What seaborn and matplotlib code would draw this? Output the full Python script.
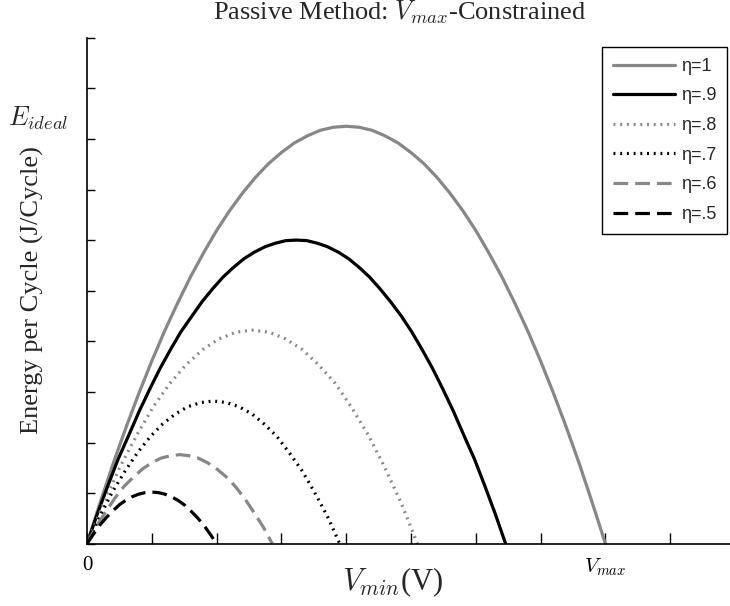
import matplotlib
matplotlib.use("Agg")
import matplotlib.pyplot as plt
import seaborn as sns
import pandas as pd

# ---- data (V and E in axis-tick units) ----
labels = ["η=1", "η=.9", "η=.8", "η=.7", "η=.6", "η=.5"]

v_eta10 = [0, 0.2, 0.4, 0.6, 0.8, 1.0, 1.2, 1.4, 1.6, 1.8, 2.0, 2.2, 2.4, 2.6, 2.8, 3.0, 3.2, 3.4, 3.6, 3.8, 4.0,
           4.2, 4.4, 4.6, 4.8, 5.0, 5.2, 5.4, 5.6, 5.8, 6.0, 6.2, 6.4, 6.6, 6.8, 7.0, 7.2, 7.4, 7.6, 7.8, 8.0]
e_eta10 = [0, 0.80, 1.57, 2.29, 2.97, 3.61, 4.21, 4.76, 5.28, 5.75, 6.19, 6.58, 6.93, 7.24, 7.51, 7.73, 7.92, 8.06, 8.17, 8.23, 8.25,
           8.23, 8.17, 8.06, 7.92, 7.73, 7.51, 7.24, 6.93, 6.58, 6.19, 5.75, 5.28, 4.76, 4.21, 3.61, 2.97, 2.29, 1.57, 0.80, 0]

v_eta09 = [0, 0.16, 0.32, 0.48, 0.65, 0.81, 0.97, 1.13, 1.29, 1.45, 1.62, 1.78, 1.94, 2.10, 2.26, 2.42, 2.58, 2.75, 2.91, 3.07, 3.23,
           3.39, 3.55, 3.71, 3.88, 4.04, 4.20, 4.36, 4.52, 4.68, 4.85, 5.01, 5.17, 5.33, 5.49, 5.65, 5.81, 5.98, 6.14, 6.30, 6.46]
e_eta09 = [0, 0.59, 1.14, 1.67, 2.16, 2.63, 3.06, 3.47, 3.84, 4.19, 4.50, 4.79, 5.04, 5.27, 5.46, 5.63, 5.76, 5.87, 5.94, 5.99, 6.00,
           5.99, 5.94, 5.87, 5.76, 5.63, 5.46, 5.27, 5.04, 4.79, 4.50, 4.19, 3.84, 3.47, 3.06, 2.63, 2.16, 1.67, 1.14, 0.59, 0]

v_eta08 = [0, 0.26, 0.51, 0.77, 1.02, 1.28, 1.53, 1.79, 2.04, 2.30, 2.55, 2.81, 3.06, 3.32, 3.57, 3.83, 4.08, 4.34, 4.59, 4.85, 5.10]
e_eta08 = [0, 0.80, 1.52, 2.15, 2.70, 3.17, 3.54, 3.84, 4.05, 4.18, 4.22, 4.18, 4.05, 3.84, 3.54, 3.17, 2.70, 2.15, 1.52, 0.80, 0]

v_eta07 = [0, 0.20, 0.39, 0.59, 0.78, 0.98, 1.17, 1.37, 1.56, 1.76, 1.95, 2.15, 2.34, 2.54, 2.73, 2.93, 3.12, 3.32, 3.51, 3.71, 3.90]
e_eta07 = [0, 0.54, 1.02, 1.44, 1.80, 2.12, 2.37, 2.57, 2.71, 2.79, 2.82, 2.79, 2.71, 2.57, 2.37, 2.12, 1.80, 1.44, 1.02, 0.54, 0]

v_eta06 = [0, 0.14, 0.29, 0.43, 0.57, 0.72, 0.86, 1.00, 1.14, 1.29, 1.43, 1.57, 1.72, 1.86, 2.00, 2.15, 2.29, 2.43, 2.57, 2.72, 2.86]
e_eta06 = [0, 0.33, 0.63, 0.90, 1.13, 1.32, 1.48, 1.60, 1.69, 1.74, 1.76, 1.74, 1.69, 1.60, 1.48, 1.32, 1.13, 0.90, 0.63, 0.33, 0]

v_eta05 = [0, 0.1, 0.2, 0.3, 0.4, 0.5, 0.6, 0.7, 0.8, 0.9, 1.0, 1.1, 1.2, 1.3, 1.4, 1.5, 1.6, 1.7, 1.8, 1.9, 2.0]
e_eta05 = [0, 0.19, 0.37, 0.52, 0.65, 0.77, 0.86, 0.93, 0.98, 1.01, 1.02, 1.01, 0.98, 0.93, 0.86, 0.77, 0.65, 0.52, 0.37, 0.19, 0]

x_tick_pos = list(range(0, 10))
x_tick_labels = ["0", "", "", "", "", "", "", "", r"$V_{max}$", ""]
y_tick_pos = list(range(0, 11))
e_ideal_level = 8.27

series_v = [v_eta10, v_eta09, v_eta08, v_eta07, v_eta06, v_eta05]
series_e = [e_eta10, e_eta09, e_eta08, e_eta07, e_eta06, e_eta05]

# ---- styles ----
GRAY = "#878787"
colors = [GRAY, "black", GRAY, "black", GRAY, "black"]
styles = ["-", "-", (0, (0.6, 1.5)), (0, (0.6, 1.5)), (0, (4.6, 2.2)), (0, (4.6, 2.2))]

sns.set_style("ticks")
plt.rcParams["font.family"] = ["Liberation Serif", "DejaVu Serif"]
plt.rcParams["mathtext.fontset"] = "cm"

fig = plt.figure(figsize=(7.30, 6.06), dpi=100)
ax = fig.add_axes([87 / 730, 1 - 543.7 / 606, 1 - 87 / 730, (543.7 - 37.7) / 606])

for v, e, lab, c, ls in zip(series_v, series_e, labels, colors, styles):
    df = pd.DataFrame({"V": v, "E": e})
    sns.lineplot(data=df, x="V", y="E", ax=ax, color=c, linestyle=ls,
                 linewidth=2.3, label=lab, sort=False, errorbar=None,
                 solid_joinstyle="round")

ax.set_xlim(0, (730 - 87) / 64.8)
ax.set_ylim(0, 10)
ax.set_xticks(x_tick_pos)
ax.set_xticklabels(x_tick_labels, fontsize=15)
ax.set_yticks(y_tick_pos)
ax.set_yticklabels([])
ax.tick_params(axis="both", direction="in", width=1, colors="black")
ax.tick_params(axis="x", length=8, pad=9)
ax.tick_params(axis="y", length=6)
for s in ["top", "right"]:
    ax.spines[s].set_visible(False)
for s in ["left", "bottom"]:
    ax.spines[s].set_linewidth(1.2)
    ax.spines[s].set_color("black")
ax.set_xlabel("")
ax.set_ylabel("")

ax.text(-0.278, e_ideal_level, r"$E_{ideal}$", ha="right", va="baseline",
        fontsize=19, clip_on=False)

fig.text(400 / 730, 1 - 20 / 606, r"Passive Method: $V_{max}$-Constrained",
         ha="center", va="baseline", fontsize=19)
fig.text(393 / 730, 1 - 582 / 606, r"$V_{min}$(V)", ha="center", va="center", fontsize=22)
fig.text(32 / 730, 1 - 290 / 606, "Energy per Cycle (J/Cycle)", ha="center", va="center",
         rotation=90, fontsize=19)

leg = ax.legend(loc="upper right", bbox_to_anchor=(727 / 730, 1 - 47 / 606),
                bbox_transform=fig.transFigure, frameon=True, fancybox=False,
                prop={"family": "Liberation Sans", "size": 13},
                handlelength=3.4, handletextpad=0.33, labelspacing=0.7,
                borderpad=0.6, borderaxespad=0)
leg.get_frame().set_edgecolor("black")
leg.get_frame().set_linewidth(1.0)
leg.get_frame().set_alpha(1)

fig.savefig("out.png", dpi=100)
